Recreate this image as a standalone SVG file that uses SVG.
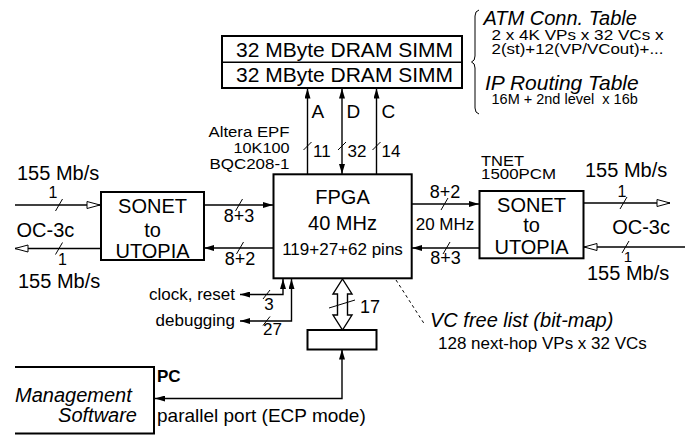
<svg xmlns="http://www.w3.org/2000/svg" width="685" height="435" viewBox="0 0 685 435">
<style>
text { font-family: "Liberation Sans", Arial, Helvetica, sans-serif; fill: #000; }
.box { fill: #fff; stroke: #000; stroke-width: 2; }
.ln { fill: none; stroke: #000; stroke-width: 1.4; }
.sl { stroke: #000; stroke-width: 1; }
.it { font-style: italic; }
.b { font-weight: bold; }
.mid { text-anchor: middle; }
.end { text-anchor: end; }
.s14 { font-size: 14.5px; }
.s15 { font-size: 15px; }
.s16 { font-size: 16px; }
.s17 { font-size: 17px; }
.s18 { font-size: 18px; }
.s19 { font-size: 19px; }
.s20 { font-size: 20px; }
.s21 { font-size: 21px; }
</style>
<defs>
<marker id="fa" viewBox="0 0 10 6" refX="10" refY="3" markerWidth="10" markerHeight="6" markerUnits="userSpaceOnUse" orient="auto-start-reverse"><path d="M0,0 L10,3 L0,6 z" fill="#000"/></marker>
<marker id="ha" viewBox="-1 -1 15 9" refX="13" refY="3.5" markerWidth="15" markerHeight="9" markerUnits="userSpaceOnUse" orient="auto-start-reverse"><path d="M0,0 L13,3.5 L0,7 z" fill="#fff" stroke="#000" stroke-width="1"/></marker>
</defs>
<rect width="685" height="435" fill="#fff"/>

<g id="connectors">
  <!-- DRAM buses -->
  <line class="ln" x1="307.5" y1="174" x2="307.5" y2="88.5" marker-end="url(#fa)"/>
  <line class="ln" x1="342" y1="174" x2="342" y2="88.5" marker-start="url(#fa)" marker-end="url(#fa)"/>
  <line class="ln" x1="376.5" y1="174" x2="376.5" y2="88.5" marker-end="url(#fa)"/>
  <line class="sl" x1="303.5" y1="150" x2="311.5" y2="142"/>
  <line class="sl" x1="338" y1="150" x2="346" y2="142"/>
  <line class="sl" x1="372.5" y1="150" x2="380.5" y2="142"/>
  <!-- left OC-3c -->
  <line class="ln" x1="15" y1="205" x2="100" y2="205" marker-end="url(#ha)"/>
  <line class="ln" x1="100" y1="248.5" x2="15" y2="248.5" marker-end="url(#ha)"/>
  <line class="sl" x1="55.5" y1="211" x2="62.5" y2="199"/>
  <line class="sl" x1="55.5" y1="254.5" x2="62.5" y2="242.5"/>
  <!-- left SONET <-> FPGA -->
  <line class="ln" x1="204" y1="205" x2="273" y2="205" marker-end="url(#fa)"/>
  <line class="ln" x1="273" y1="248" x2="204" y2="248" marker-end="url(#fa)"/>
  <line class="sl" x1="235.5" y1="211" x2="242.5" y2="199"/>
  <line class="sl" x1="236.5" y1="254" x2="243.5" y2="242"/>
  <!-- FPGA <-> right SONET -->
  <line class="ln" x1="412" y1="204" x2="479" y2="204" marker-end="url(#fa)"/>
  <line class="ln" x1="479" y1="248" x2="412" y2="248" marker-end="url(#fa)"/>
  <line class="sl" x1="441" y1="210" x2="448" y2="198"/>
  <line class="sl" x1="443" y1="254" x2="450" y2="242"/>
  <!-- right OC-3c -->
  <line class="ln" x1="583" y1="203" x2="670" y2="203" marker-end="url(#ha)"/>
  <line class="ln" x1="685" y1="247" x2="584" y2="247" marker-end="url(#ha)"/>
  <line class="sl" x1="620" y1="209" x2="627" y2="197"/>
  <line class="sl" x1="622" y1="253" x2="629" y2="241"/>
  <!-- clock / debugging -->
  <path class="ln" d="M240,294.5 H283 V279" marker-start="url(#fa)" marker-end="url(#fa)"/>
  <path class="ln" d="M240,321 H291.5 V279" marker-start="url(#fa)" marker-end="url(#fa)"/>
  <line class="sl" x1="263" y1="299" x2="270" y2="290"/>
  <line class="sl" x1="263" y1="325.5" x2="270" y2="316.5"/>
  <!-- 17-bit bus -->
  <path d="M342.5,279 L352,294 L347.5,294 L347.5,315 L352,315 L342.5,330 L333,315 L337.5,315 L337.5,294 L333,294 Z" fill="#fff" stroke="#000" stroke-width="1.4"/>
  <line class="sl" x1="329" y1="308" x2="355" y2="300"/>
  <!-- parallel port -->
  <path class="ln" d="M155,398.5 H342 V349.5" marker-start="url(#fa)" marker-end="url(#fa)"/>
  <!-- VC free list leader -->
  <circle cx="391.5" cy="269.5" r="1.8" fill="#000"/>
  <line x1="396" y1="280" x2="425" y2="325" stroke="#000" stroke-width="1" stroke-dasharray="3,3"/>
  <!-- connector labels -->
  <text class="s19" x="311.5" y="118">A</text>
  <text class="s19" x="346.5" y="118">D</text>
  <text class="s19" x="381.5" y="118">C</text>
  <text class="s17" x="313" y="157">11</text>
  <text class="s17" x="347.5" y="157">32</text>
  <text class="s17" x="381.5" y="157">14</text>
  <text class="s16 mid" x="53" y="198">1</text>
  <text class="s16 mid" x="62.5" y="265">1</text>
  <text class="s18 mid" x="239" y="222">8+3</text>
  <text class="s18 mid" x="240" y="265">8+2</text>
  <text class="s18 mid" x="445" y="198">8+2</text>
  <text class="s17 mid" x="445" y="230">20 MHz</text>
  <text class="s18 mid" x="445.5" y="264">8+3</text>
  <text class="s16 mid" x="622" y="197">1</text>
  <text class="s15 mid" x="628" y="261.5">1</text>
  <text class="s17 mid" x="269" y="310">3</text>
  <text class="s17 mid" x="272.5" y="335">27</text>
  <text class="s18" x="360" y="313">17</text>
  <text class="s17 end" x="235" y="300">clock, reset</text>
  <text class="s17 end" x="235" y="326">debugging</text>
  <text class="s19" x="157" y="422">parallel port (ECP mode)</text>
  <text class="s20" x="17" y="180">155 Mb/s</text>
  <text class="s20" x="16.5" y="237">OC-3c</text>
  <text class="s20" x="18" y="288">155 Mb/s</text>
  <text class="s20" x="585" y="177">155 Mb/s</text>
  <text class="s20 end" x="670" y="234">OC-3c</text>
  <text class="s20" x="587" y="279.5">155 Mb/s</text>
</g>

<g id="dram">
  <rect class="box" x="222" y="36" width="240" height="52"/>
  <line x1="222" y1="62.3" x2="462" y2="62.3" stroke="#000" stroke-width="1.6"/>
  <text class="s21" x="236" y="56.5">32 MByte DRAM SIMM</text>
  <text class="s21" x="236" y="81.5">32 MByte DRAM SIMM</text>
</g>

<g id="tables">
  <path d="M479,10 Q475,11 475,16 L475,56 Q475,61 471.5,62 Q475,63 475,68 L475,108 Q475,113 479,114" fill="none" stroke="#000" stroke-width="1"/>
  <text class="s20 it" x="483.5" y="25">ATM Conn. Table</text>
  <text class="s15" x="491.5" y="39.5" textLength="172" lengthAdjust="spacingAndGlyphs">2 x 4K VPs x 32 VCs x</text>
  <text class="s15" x="491.5" y="53.5" textLength="172" lengthAdjust="spacingAndGlyphs">2(st)+12(VP/VCout)+...</text>
  <text class="s21 it" x="485" y="90">IP Routing Table</text>
  <text class="s14" x="491.5" y="104" xml:space="preserve">16M + 2nd level  x 16b</text>
</g>

<g id="fpga">
  <rect class="box" x="273.5" y="174.3" width="138.2" height="104" stroke-width="2.4"/>
  <text class="s20 mid" x="342.5" y="204">FPGA</text>
  <text class="s20 mid" x="342.5" y="230">40 MHz</text>
  <text class="s17 mid" x="342.5" y="255">119+27+62 pins</text>
  <text class="s15 end" x="289.5" y="137" textLength="81" lengthAdjust="spacingAndGlyphs">Altera EPF</text>
  <text class="s15 end" x="289.5" y="153" textLength="56" lengthAdjust="spacingAndGlyphs">10K100</text>
  <text class="s15 end" x="289.5" y="168.5" textLength="80" lengthAdjust="spacingAndGlyphs">BQC208-1</text>
</g>

<g id="sonet-left">
  <rect class="box" x="101" y="192" width="103" height="68"/>
  <text class="s20 mid" x="152.5" y="213">SONET</text>
  <text class="s20 mid" x="152.5" y="236.5">to</text>
  <text class="s20 mid" x="152.5" y="257.5">UTOPIA</text>
</g>

<g id="sonet-right">
  <rect class="box" x="479.5" y="191" width="104" height="67.3"/>
  <text class="s20 mid" x="531.5" y="211.5">SONET</text>
  <text class="s20 mid" x="531.5" y="231.5">to</text>
  <text class="s20 mid" x="531.5" y="253.5">UTOPIA</text>
  <text class="s14" x="481" y="165.5" textLength="43" lengthAdjust="spacingAndGlyphs">TNET</text>
  <text class="s14" x="481" y="178.5" textLength="75" lengthAdjust="spacingAndGlyphs">1500PCM</text>
</g>

<g id="vc-free-list">
  <text class="s20 it" x="430" y="327">VC free list (bit-map)</text>
  <text class="s17" x="438" y="349">128 next-hop VPs x 32 VCs</text>
</g>

<g id="port-interface">
  <rect class="box" x="307.5" y="330" width="69" height="19.5" stroke-width="1.6"/>
</g>

<g id="pc">
  <path d="M15,367 H154 V433.5 H15" fill="none" stroke="#000" stroke-width="2"/>
  <text class="s17 b" x="157" y="382">PC</text>
  <text class="s20 it" x="15" y="401.5">Management</text>
  <text class="s20 it end" x="137" y="422">Software</text>
</g>
</svg>
